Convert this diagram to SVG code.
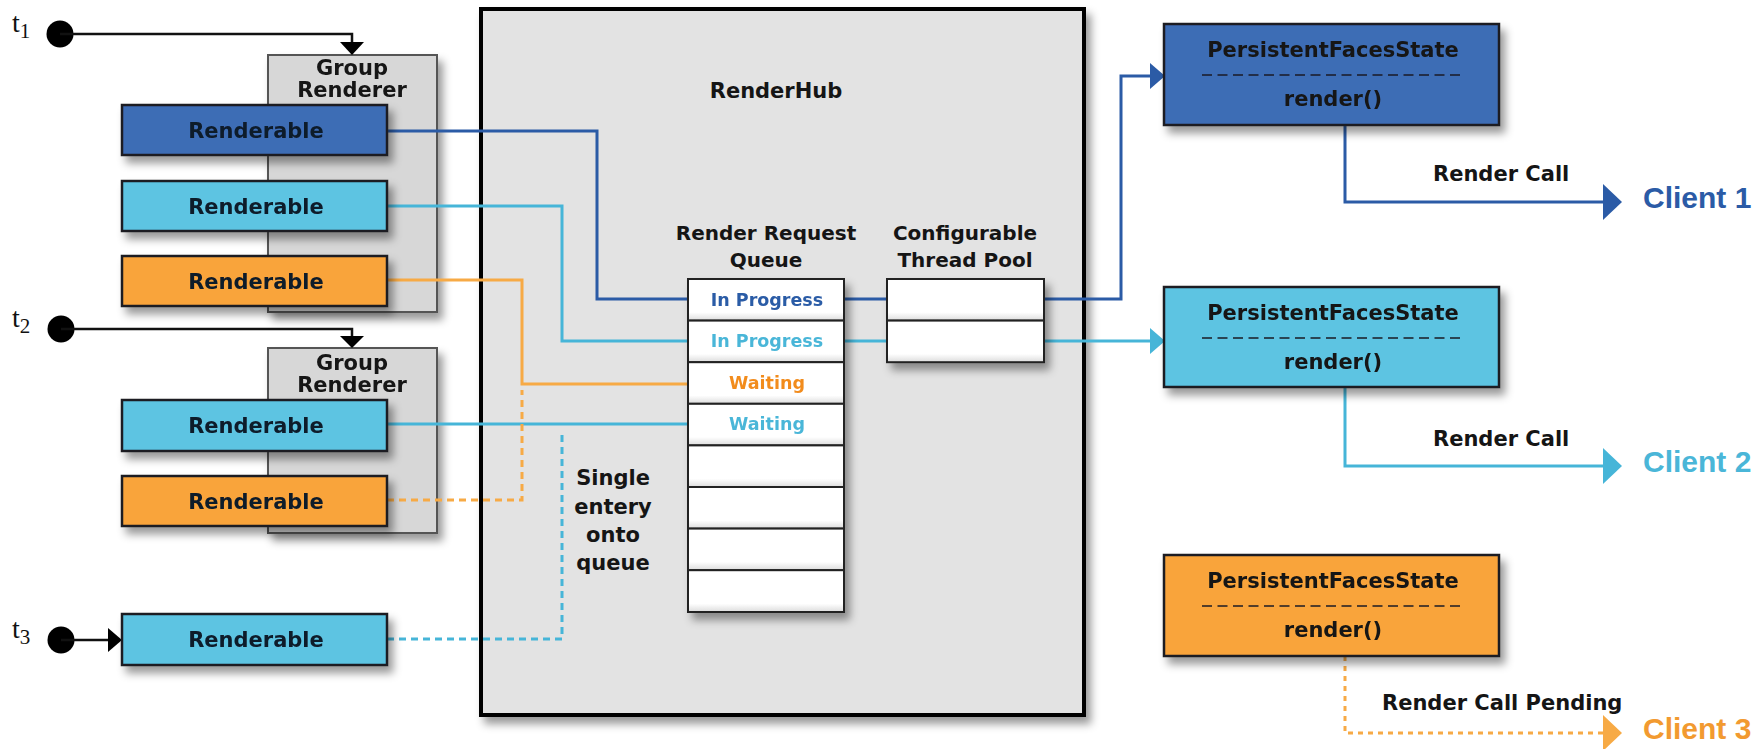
<svg xmlns="http://www.w3.org/2000/svg" width="1760" height="749" viewBox="0 0 1760 749">
<defs>
<filter id="sh" x="-15%" y="-15%" width="140%" height="150%">
<feDropShadow dx="5" dy="7" stdDeviation="4" flood-color="#000" flood-opacity="0.4"/>
</filter>
<linearGradient id="cell" x1="0" y1="0" x2="0" y2="1">
<stop offset="0" stop-color="#ffffff"/>
<stop offset="0.8" stop-color="#ffffff"/>
<stop offset="1" stop-color="#dcdcdc"/>
</linearGradient>
<style>
text{font-family:"DejaVu Sans",Verdana,sans-serif;font-weight:bold;fill:#151515}
.c{text-anchor:middle}
.rend{stroke:#1b1b24;stroke-width:2.5}
.blue{fill:#3e6db5}
.cyan{fill:#5dc4e2}
.orange{fill:#f9a43a}
.grp{fill:#d7d7d7;stroke:#555;stroke-width:2}
.lb{fill:none;stroke:#2b5ba6;stroke-width:3}
.lc{fill:none;stroke:#46b5d8;stroke-width:3}
.lo{fill:none;stroke:#f7aa45;stroke-width:3}
.dot{stroke-dasharray:7 5}
.blk{fill:none;stroke:#111;stroke-width:2.5}
.cellr{fill:url(#cell);stroke:#222;stroke-width:2}
.rt{font-size:21px;fill:#0f1a2a}
.qt{font-size:17.5px}
.tl{font-family:"Liberation Serif","Times New Roman",serif;font-weight:normal;fill:#111}
.cl{font-family:"Liberation Sans",Arial,sans-serif;font-size:30px}
</style>
</defs>

<g id="group-renderer-1" filter="url(#sh)">
<rect class="grp" x="268" y="55" width="169" height="257"/>
<text class="c" x="352" y="75" font-size="21">Group</text>
<text class="c" x="352" y="97" font-size="21">Renderer</text>
</g>
<g id="group-renderer-2" filter="url(#sh)">
<rect class="grp" x="268" y="348" width="169" height="185"/>
<text class="c" x="352" y="370" font-size="21">Group</text>
<text class="c" x="352" y="392" font-size="21">Renderer</text>
</g>

<g id="renderhub">
<rect x="481" y="9" width="603" height="706" fill="#e3e3e3" stroke="#000" stroke-width="4" filter="url(#sh)"/>
<text class="c" x="776" y="98" font-size="21">RenderHub</text>
<text class="c" x="766" y="240" font-size="20">Render Request</text>
<text class="c" x="766" y="267" font-size="20">Queue</text>
<text class="c" x="965" y="240" font-size="20">Configurable</text>
<text class="c" x="965" y="267" font-size="20">Thread Pool</text>
<text class="c" x="613" y="485" font-size="21">Single</text>
<text class="c" x="613" y="514" font-size="21">entery</text>
<text class="c" x="613" y="542" font-size="21">onto</text>
<text class="c" x="613" y="570" font-size="21">queue</text>
</g>

<g id="connectors">
<circle cx="60" cy="34" r="13.5" fill="#000"/>
<path class="blk" d="M60 34 H352 V42"/>
<polygon points="340,42 364,42 352,55" fill="#000"/>
<circle cx="61" cy="329" r="13.5" fill="#000"/>
<path class="blk" d="M61 329 H352 V336"/>
<polygon points="340,336 364,336 352,348" fill="#000"/>
<circle cx="61" cy="640" r="13.5" fill="#000"/>
<path class="blk" d="M61 640 H110"/>
<polygon points="108,628 122,640 108,652" fill="#000"/>

<path class="lb" d="M387 131 H597 V299 H688"/>
<path class="lb" d="M844 299 H887"/>
<path class="lb" d="M1044 299 H1121 V76 H1152"/>
<polygon points="1150,63 1165,76 1150,89" fill="#2b5ba6"/>

<path class="lc" d="M387 206 H562 V341 H688"/>
<path class="lc" d="M844 341 H887"/>
<path class="lc" d="M1044 341 H1152"/>
<polygon points="1150,328 1165,341 1150,354" fill="#46b5d8"/>

<path class="lo" d="M387 280 H522 V384 H688"/>
<path class="lc" d="M387 424 H688"/>
<path class="lo dot" d="M387 500 H522 V390"/>
<path class="lc dot" d="M387 639 H562 V430"/>

<path class="lb" d="M1345 125 V202 H1606"/>
<polygon points="1603,184 1622,202 1603,220" fill="#2b5ba6"/>
<path class="lc" d="M1345 387 V466 H1606"/>
<polygon points="1603,448 1622,466 1603,484" fill="#46b5d8"/>
<path class="lo" d="M1345 656 V733 H1606" stroke-dasharray="5 5"/>
<polygon points="1603,715 1622,733 1603,751" fill="#f7aa45"/>
</g>

<g id="t-labels">
<text class="tl" x="12" y="32" font-size="28">t<tspan font-size="21" dy="6">1</tspan></text>
<text class="tl" x="12" y="327" font-size="28">t<tspan font-size="21" dy="6">2</tspan></text>
<text class="tl" x="12" y="638" font-size="28">t<tspan font-size="21" dy="6">3</tspan></text>
</g>

<g id="renderable-1" filter="url(#sh)">
<rect class="rend blue" x="122" y="105" width="265" height="50"/>
<text class="c rt" x="256" y="138">Renderable</text>
</g>
<g id="renderable-2" filter="url(#sh)">
<rect class="rend cyan" x="122" y="181" width="265" height="50"/>
<text class="c rt" x="256" y="214">Renderable</text>
</g>
<g id="renderable-3" filter="url(#sh)">
<rect class="rend orange" x="122" y="256" width="265" height="50"/>
<text class="c rt" x="256" y="289">Renderable</text>
</g>
<g id="renderable-4" filter="url(#sh)">
<rect class="rend cyan" x="122" y="400" width="265" height="51"/>
<text class="c rt" x="256" y="433">Renderable</text>
</g>
<g id="renderable-5" filter="url(#sh)">
<rect class="rend orange" x="122" y="476" width="265" height="50"/>
<text class="c rt" x="256" y="509">Renderable</text>
</g>
<g id="renderable-6" filter="url(#sh)">
<rect class="rend cyan" x="122" y="614" width="265" height="51"/>
<text class="c rt" x="256" y="647">Renderable</text>
</g>

<g id="queue" filter="url(#sh)">
<rect class="cellr" x="688" y="279" width="156" height="41.6"/>
<rect class="cellr" x="688" y="320.6" width="156" height="41.6"/>
<rect class="cellr" x="688" y="362.2" width="156" height="41.6"/>
<rect class="cellr" x="688" y="403.8" width="156" height="41.6"/>
<rect class="cellr" x="688" y="445.4" width="156" height="41.6"/>
<rect class="cellr" x="688" y="487" width="156" height="41.6"/>
<rect class="cellr" x="688" y="528.6" width="156" height="41.6"/>
<rect class="cellr" x="688" y="570.2" width="156" height="41.8"/>
<text class="c qt" x="767" y="306" fill="#2b5ba6" style="fill:#2b5ba6">In Progress</text>
<text class="c qt" x="767" y="347" style="fill:#4ab6d8">In Progress</text>
<text class="c qt" x="767" y="389" style="fill:#f28c1e">Waiting</text>
<text class="c qt" x="767" y="430" style="fill:#4ab6d8">Waiting</text>
</g>

<g id="thread-pool" filter="url(#sh)">
<rect class="cellr" x="887" y="279" width="157" height="41.6"/>
<rect class="cellr" x="887" y="320.6" width="157" height="41.6"/>
</g>

<g id="pfs-1" filter="url(#sh)">
<rect class="rend blue" x="1164" y="24" width="335" height="101"/>
<text class="c" x="1333" y="57" font-size="21">PersistentFacesState</text>
<line x1="1202" y1="75" x2="1463" y2="75" stroke="#1b1b24" stroke-width="1.5" stroke-dasharray="10 5.5"/>
<text class="c" x="1333" y="106" font-size="21">render()</text>
</g>
<g id="pfs-2" filter="url(#sh)">
<rect class="rend cyan" x="1164" y="287" width="335" height="100"/>
<text class="c" x="1333" y="320" font-size="21">PersistentFacesState</text>
<line x1="1202" y1="338" x2="1463" y2="338" stroke="#1b1b24" stroke-width="1.5" stroke-dasharray="10 5.5"/>
<text class="c" x="1333" y="369" font-size="21">render()</text>
</g>
<g id="pfs-3" filter="url(#sh)">
<rect class="rend orange" x="1164" y="555" width="335" height="101"/>
<text class="c" x="1333" y="588" font-size="21">PersistentFacesState</text>
<line x1="1202" y1="606" x2="1463" y2="606" stroke="#1b1b24" stroke-width="1.5" stroke-dasharray="10 5.5"/>
<text class="c" x="1333" y="637" font-size="21">render()</text>
</g>

<g id="clients">
<text x="1433" y="181" font-size="21">Render Call</text>
<text class="cl" x="1643" y="208" style="fill:#2b5ba6">Client 1</text>
<text x="1433" y="446" font-size="21">Render Call</text>
<text class="cl" x="1643" y="472" style="fill:#4ab6d8">Client 2</text>
<text x="1382" y="710" font-size="21">Render Call Pending</text>
<text class="cl" x="1643" y="739" style="fill:#f29a30">Client 3</text>
</g>
</svg>
